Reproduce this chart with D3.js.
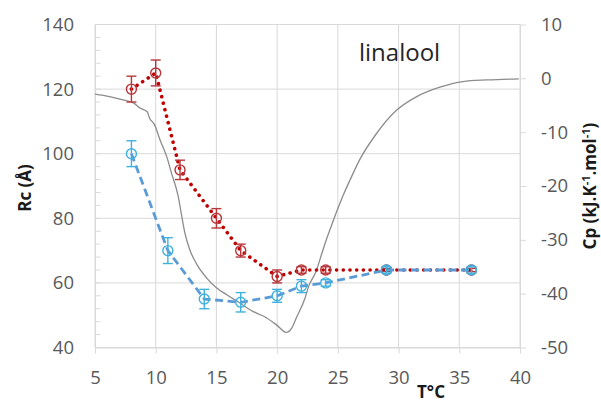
<!DOCTYPE html>
<html>
<head>
<meta charset="utf-8">
<script src="https://cdn.jsdelivr.net/npm/d3@7"></script>
<style>
  body { margin: 0; background: #fff; }
  svg { display: block; font-family: "Open Sans", "Noto Sans", sans-serif; }
  .tick text { fill: #595959; font-size: 18.5px; }
</style>
</head>
<body>
<div id="chart"></div>
<script>
// Rc series (red, dotted)
const redTemps = [8, 10, 12, 15, 17, 20, 22, 24, 29, 36];
const redRc = [120, 125, 95, 80, 70, 62, 64, 64, 64, 64];
const redErr = [4, 4, 3, 3, 2, 2, 1, 1, 0.5, 0.5];

// Rc series (blue, dashed)
const blueTemps = [8, 11, 14, 17, 20, 22, 24, 29, 36];
const blueRc = [100, 70, 55, 54, 56, 59, 60, 64, 64];
const blueErr = [4, 4, 3, 3, 2, 2, 1, 1, 1];

// DSC trace, right axis
const cpTemps = [5.0, 6.2, 7.3, 8.2, 8.7, 9.3, 9.5, 9.9, 10.35, 10.9, 11.3, 11.85, 12.15, 12.4, 12.8,
  13.4, 14.2, 15.0, 15.85, 16.9, 18.0, 18.9, 19.95, 20.75, 21.2, 21.6, 22.3, 22.6, 23.2, 23.7, 24.05,
  24.5, 25.0, 25.5, 26.0, 26.8, 28.2, 29.85, 31.5, 33.4, 35.3, 37.3, 39.9];
const cpValues = [-2.95, -3.4, -4.0, -4.6, -5.5, -6.2, -7.4, -8.6, -11.4, -14.5, -17.6, -21.9, -25.7, -28.7, -31.8,
  -34.6, -37.1, -38.9, -40.2, -41.7, -43.3, -44.2, -45.8, -47.2, -46.4, -44.4, -40.8, -38.6, -35.9, -32.4, -30.0,
  -27.2, -24.2, -21.4, -18.9, -15.1, -10.2, -5.9, -3.4, -1.65, -0.6, -0.3, -0.1];

const xTicks = [5, 10, 15, 20, 25, 30, 35, 40];
const leftTicks = [40, 60, 80, 100, 120, 140];
const rightTicks = [-50, -40, -30, -20, -10, 0, 10];

const W = 601, H = 403;
const plot = { left: 95, right: 520, top: 24.5, bottom: 347.5 };

const svg = d3.select("#chart").append("svg").attr("width", W).attr("height", H);

const x = d3.scaleLinear().domain([5, 40]).range([plot.left, plot.right]);
const yL = d3.scaleLinear().domain([40, 140]).range([plot.bottom, plot.top]);
const yR = d3.scaleLinear().domain([-50, 10]).range([plot.bottom, plot.top]);

// gridlines
const grid = svg.append("g").attr("stroke", "#d9d9d9").attr("stroke-width", 1);
grid.selectAll(".h").data(leftTicks).join("line")
  .attr("x1", plot.left).attr("x2", plot.right)
  .attr("y1", d => yL(d)).attr("y2", d => yL(d));
grid.selectAll(".v").data(xTicks).join("line")
  .attr("x1", d => x(d)).attr("x2", d => x(d))
  .attr("y1", plot.top).attr("y2", plot.bottom);

// minor ticks inside left axis
grid.selectAll(".m").data(d3.range(40, 141, 4)).join("line")
  .attr("x1", plot.left).attr("x2", plot.left + 5.5)
  .attr("y1", d => yL(d)).attr("y2", d => yL(d));

// axes (plain hyphen for negatives, like the source)
const fmt = d => String(d);
const xAxis = svg.append("g")
  .attr("transform", `translate(0,${plot.bottom})`)
  .call(d3.axisBottom(x).tickValues(xTicks).tickFormat(fmt).tickSize(6).tickPadding(17).tickSizeOuter(0));
const lAxis = svg.append("g")
  .attr("transform", `translate(${plot.left},0)`)
  .call(d3.axisLeft(yL).tickValues(leftTicks).tickFormat(fmt).tickSize(0).tickPadding(21));
const rAxis = svg.append("g")
  .attr("transform", `translate(${plot.right},0)`)
  .call(d3.axisRight(yR).tickValues(rightTicks).tickFormat(fmt).tickSize(6).tickPadding(15).tickSizeOuter(0));
[xAxis, lAxis, rAxis].forEach(a => {
  a.select(".domain").attr("stroke", "#d9d9d9");
  a.selectAll(".tick line").attr("stroke", "#d9d9d9");
  a.attr("font-family", null).attr("font-size", null);
});

// DSC curve
svg.append("path")
  .datum(cpTemps.map((t, i) => [t, cpValues[i]]))
  .attr("fill", "none")
  .attr("stroke", "#8c8c8c")
  .attr("stroke-width", 1.3)
  .attr("d", d3.line().x(d => x(d[0])).y(d => yR(d[1])).curve(d3.curveMonotoneX));

function drawSeries(temps, vals, errs, lineColor, markColor, dash, width) {
  const pts = temps.map((t, i) => ({ t, v: vals[i], e: errs[i] }));
  const g = svg.append("g");
  g.append("path")
    .datum(pts)
    .attr("fill", "none")
    .attr("stroke", lineColor)
    .attr("stroke-width", width)
    .attr("stroke-linecap", dash === "dot" ? "round" : "butt")
    .attr("stroke-dasharray", dash === "dot" ? "0.1 6.6" : "8 4.5")
    .attr("d", d3.line().x(d => x(d.t)).y(d => yL(d.v)));
  const eb = g.selectAll(".err").data(pts).join("g").attr("stroke", markColor).attr("stroke-width", 1.4);
  eb.append("line")
    .attr("x1", d => x(d.t)).attr("x2", d => x(d.t))
    .attr("y1", d => yL(d.v + d.e)).attr("y2", d => yL(d.v - d.e));
  eb.append("line")
    .attr("x1", d => x(d.t) - 5).attr("x2", d => x(d.t) + 5)
    .attr("y1", d => yL(d.v + d.e)).attr("y2", d => yL(d.v + d.e));
  eb.append("line")
    .attr("x1", d => x(d.t) - 5).attr("x2", d => x(d.t) + 5)
    .attr("y1", d => yL(d.v - d.e)).attr("y2", d => yL(d.v - d.e));
  g.selectAll("circle").data(pts).join("circle")
    .attr("cx", d => x(d.t)).attr("cy", d => yL(d.v))
    .attr("r", 5)
    .attr("fill", "none")
    .attr("stroke", markColor)
    .attr("stroke-width", 1.4);
}

drawSeries(redTemps, redRc, redErr, "#c00000", "#b8353a", "dot", 3.6);
drawSeries(blueTemps, blueRc, blueErr, "#5b9bd5", "#3fb1de", "dash", 2.8);

// titles
svg.append("text")
  .attr("x", 359).attr("y", 61)
  .attr("font-size", 24).attr("fill", "#262626")
  .text("linalool");

svg.append("text")
  .attr("transform", "translate(31,188) rotate(-90)")
  .attr("text-anchor", "middle")
  .attr("font-size", 17).attr("font-weight", "bold").attr("fill", "#1a1a1a")
  .text("Rc (Å)");

const cp = svg.append("text")
  .attr("transform", "translate(596,186) rotate(-90)")
  .attr("text-anchor", "middle")
  .attr("font-size", 17).attr("font-weight", "bold").attr("fill", "#1a1a1a");
cp.append("tspan").text("Cp (kJ.K");
cp.append("tspan").attr("dy", -6).attr("font-size", 11).text("-1");
cp.append("tspan").attr("dy", 6).text(".mol");
cp.append("tspan").attr("dy", -6).attr("font-size", 11).text("-1");
cp.append("tspan").attr("dy", 6).text(")");

svg.append("text")
  .attr("x", 431).attr("y", 398)
  .attr("text-anchor", "middle")
  .attr("font-size", 17).attr("font-weight", "bold").attr("fill", "#1a1a1a")
  .text("T°C");
</script>
</body>
</html>
